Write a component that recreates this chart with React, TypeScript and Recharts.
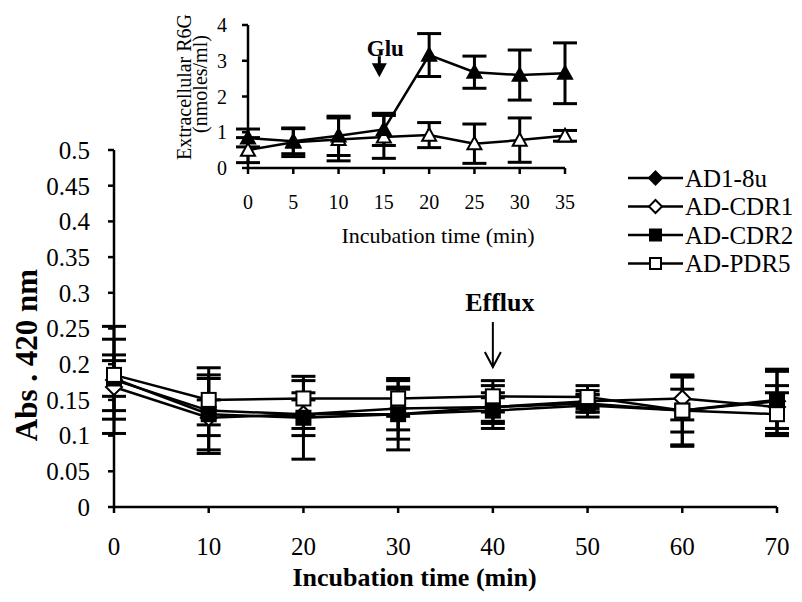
import React from 'react';
import {
  LineChart,
  Line,
  XAxis,
  YAxis,
  ErrorBar,
  Label,
  Legend,
  ReferenceDot,
} from 'recharts';

const SERIF = "'Liberation Serif', 'Times New Roman', serif";

// main chart: absorbance at 420 nm
const minutes = [0, 10, 20, 30, 40, 50, 60, 70];
const ad18u = [0.178, 0.135, 0.13, 0.13, 0.14, 0.145, 0.135, 0.148];
const ad18uErr = [0.075, 0.06, 0.02, 0.05, 0.03, 0.012, 0.03, 0.045];
const cdr1 = [0.168, 0.125, 0.13, 0.138, 0.14, 0.148, 0.152, 0.14];
const cdr1Err = [0.045, 0.025, 0.03, 0.03, 0.02, 0.015, 0.03, 0.03];
const cdr2 = [0.18, 0.13, 0.125, 0.13, 0.135, 0.142, 0.135, 0.15];
const cdr2Err = [0.025, 0.05, 0.058, 0.035, 0.018, 0.016, 0.048, 0.04];
const pdr5 = [0.185, 0.15, 0.152, 0.152, 0.155, 0.154, 0.135, 0.13];
const pdr5Err = [0.05, 0.035, 0.025, 0.025, 0.022, 0.016, 0.05, 0.03];
const yTicks = [0, 0.05, 0.1, 0.15, 0.2, 0.25, 0.3, 0.35, 0.4, 0.45, 0.5];
const xTicks = [0, 10, 20, 30, 40, 50, 60, 70];

// inset: extracellular R6G
const insetMinutes = [0, 5, 10, 15, 20, 25, 30, 35];
const glu = [0.84, 0.75, 0.9, 1.08, 3.16, 2.68, 2.6, 2.65];
const gluErr = [0.25, 0.35, 0.55, 0.45, 0.6, 0.45, 0.7, 0.85];
const noGlu = [0.5, 0.72, 0.8, 0.87, 0.92, 0.68, 0.78, 0.9];
const noGluErr = [0.35, 0.4, 0.6, 0.6, 0.35, 0.55, 0.62, 0.15];
const insetYTicks = [0, 1, 2, 3, 4];
const insetXTicks = [0, 5, 10, 15, 20, 25, 30, 35];

const mainData = minutes.map((t, i) => ({
  t,
  ad18u: ad18u[i],
  ad18uErr: ad18uErr[i],
  cdr1: cdr1[i],
  cdr1Err: cdr1Err[i],
  cdr2: cdr2[i],
  cdr2Err: cdr2Err[i],
  pdr5: pdr5[i],
  pdr5Err: pdr5Err[i],
}));

const insetData = insetMinutes.map((t, i) => ({
  t,
  glu: glu[i],
  gluErr: gluErr[i],
  noGlu: noGlu[i],
  noGluErr: noGluErr[i],
}));

type Shape = 'diamond' | 'square' | 'triangle';

function marker(shape: Shape, cx: number, cy: number, r: number, filled: boolean, key?: string) {
  const fill = filled ? '#000' : '#fff';
  if (shape === 'diamond') {
    return (
      <path
        key={key}
        d={`M${cx},${cy - r}L${cx + r},${cy}L${cx},${cy + r}L${cx - r},${cy}Z`}
        fill={fill}
        stroke="#000"
        strokeWidth={2}
      />
    );
  }
  if (shape === 'square') {
    return (
      <rect key={key} x={cx - r} y={cy - r} width={2 * r} height={2 * r} fill={fill} stroke="#000" strokeWidth={2} />
    );
  }
  return (
    <path
      key={key}
      d={`M${cx},${cy - r}L${cx + r},${cy + r * 0.8}L${cx - r},${cy + r * 0.8}Z`}
      fill={fill}
      stroke="#000"
      strokeWidth={2}
    />
  );
}

const series = [
  { key: 'ad18u', err: 'ad18uErr', name: 'AD1-8u', shape: 'diamond' as Shape, filled: true, r: 8 },
  { key: 'cdr1', err: 'cdr1Err', name: 'AD-CDR1', shape: 'diamond' as Shape, filled: false, r: 8 },
  { key: 'cdr2', err: 'cdr2Err', name: 'AD-CDR2', shape: 'square' as Shape, filled: true, r: 7 },
  { key: 'pdr5', err: 'pdr5Err', name: 'AD-PDR5', shape: 'square' as Shape, filled: false, r: 7 },
];

function renderLegend() {
  return (
    <svg width={180} height={116}>
      {series.map((s, i) => {
        const y = 15 + i * 28.5;
        return (
          <g key={s.key}>
            <line x1={2} y1={y} x2={57} y2={y} stroke="#000" strokeWidth={2.5} />
            {marker(s.shape, 29.5, y, s.r - 1.5, s.filled)}
            <text x={59} y={y + 8.5} fontSize={25} fontFamily={SERIF} fill="#000">
              {s.name}
            </text>
          </g>
        );
      })}
    </svg>
  );
}

const axisStyle = { stroke: '#000', strokeWidth: 2.5 };

export default function App() {
  return (
    <div style={{ position: 'absolute', left: 0, top: 0, width: 802, height: 602, background: '#fff' }}>
      <div style={{ position: 'absolute', left: 0, top: 0 }}>
        <LineChart width={802} height={602} data={mainData} margin={{ top: 150, right: 25, bottom: 0, left: 0 }}>
          <XAxis
            dataKey="t"
            type="number"
            domain={[0, 70]}
            ticks={xTicks}
            height={95}
            axisLine={axisStyle}
            tickLine={axisStyle}
            tickSize={6}
            tickMargin={24}
            tick={{ fill: '#000', fontSize: 25, fontFamily: SERIF }}
          >
            <Label
              content={(p: any) => (
                <text
                  x={p.viewBox.x + p.viewBox.width / 2 - 31}
                  y={p.viewBox.y + 79}
                  textAnchor="middle"
                  fontSize={26}
                  fontWeight="bold"
                  fontFamily={SERIF}
                  fill="#000"
                >
                  Incubation time (min)
                </text>
              )}
            />
          </XAxis>
          <YAxis
            type="number"
            domain={[0, 0.5]}
            ticks={yTicks}
            width={114}
            axisLine={axisStyle}
            tickLine={axisStyle}
            tickSize={6}
            tickMargin={18}
            tickFormatter={(v: number) => String(v)}
            tick={{ fill: '#000', fontSize: 25, fontFamily: SERIF }}
          >
            <Label
              content={(p: any) => {
                const x = 37;
                const y = p.viewBox.y + 205;
                return (
                  <text
                    x={x}
                    y={y}
                    transform={`rotate(-90, ${x}, ${y})`}
                    textAnchor="middle"
                    fontSize={31}
                    fontWeight="bold"
                    fontFamily={SERIF}
                    fill="#000"
                  >
                    Abs . 420 nm
                  </text>
                );
              }}
            />
          </YAxis>
          <Legend
            layout="horizontal"
            verticalAlign="middle"
            align="center"
            wrapperStyle={{ left: 626, top: 163, width: 180, height: 116 }}
            content={renderLegend}
          />
          {series.map((s) => (
            <Line
              key={s.key}
              dataKey={s.key}
              name={s.name}
              stroke="#000"
              strokeWidth={2.5}
              isAnimationActive={false}
              activeDot={false}
              dot={(p: any) => marker(s.shape, p.cx, p.cy, s.r, s.filled, `${s.key}-${p.index}`)}
            >
              <ErrorBar dataKey={s.err} width={12} strokeWidth={3} stroke="#000" direction="y" />
            </Line>
          ))}
          <ReferenceDot
            x={40}
            y={0.196}
            shape={(p: any) => (
              <g>
                <line x1={p.cx} y1={p.cy - 45} x2={p.cx} y2={p.cy} stroke="#000" strokeWidth={2} />
                <polyline
                  points={`${p.cx - 8},${p.cy - 15} ${p.cx},${p.cy} ${p.cx + 8},${p.cy - 15}`}
                  fill="none"
                  stroke="#000"
                  strokeWidth={2}
                />
                <text
                  x={p.cx + 7}
                  y={p.cy - 56}
                  textAnchor="middle"
                  fontSize={26}
                  fontWeight="bold"
                  fontFamily={SERIF}
                  fill="#000"
                >
                  Efflux
                </text>
              </g>
            )}
          />
        </LineChart>
      </div>
      <div style={{ position: 'absolute', left: 0, top: 0 }}>
        <LineChart width={600} height={250} data={insetData} margin={{ top: 25, right: 35, bottom: 0, left: 0 }}>
          <XAxis
            dataKey="t"
            type="number"
            domain={[0, 35]}
            ticks={insetXTicks}
            height={82}
            axisLine={axisStyle}
            tickLine={axisStyle}
            tickSize={6}
            tickMargin={21}
            tick={{ fill: '#000', fontSize: 20, fontFamily: SERIF }}
          >
            <Label
              content={(p: any) => (
                <text
                  x={p.viewBox.x + 190}
                  y={p.viewBox.y + 75}
                  textAnchor="middle"
                  fontSize={22}
                  fontFamily={SERIF}
                  fill="#000"
                >
                  Incubation time (min)
                </text>
              )}
            />
          </XAxis>
          <YAxis
            type="number"
            domain={[0, 4]}
            ticks={insetYTicks}
            width={248}
            axisLine={axisStyle}
            tickLine={axisStyle}
            tickSize={6}
            tickMargin={15}
            tick={{ fill: '#000', fontSize: 20, fontFamily: SERIF }}
          >
            <Label
              content={() => (
                <g fontFamily={SERIF} fontSize={20} fill="#000">
                  <text x={191} y={87} transform="rotate(-90, 191, 87)" textAnchor="middle">
                    Extracellular R6G
                  </text>
                  <text x={207} y={84} transform="rotate(-90, 207, 84)" textAnchor="middle">
                    (nmoles/ml)
                  </text>
                </g>
              )}
            />
          </YAxis>
          <Line
            dataKey="noGlu"
            stroke="#000"
            strokeWidth={2.5}
            isAnimationActive={false}
            activeDot={false}
            dot={(p: any) => marker('triangle', p.cx, p.cy, 7, false, `ng-${p.index}`)}
          >
            <ErrorBar dataKey="noGluErr" width={12} strokeWidth={3} stroke="#000" direction="y" />
          </Line>
          <Line
            dataKey="glu"
            stroke="#000"
            strokeWidth={2.5}
            isAnimationActive={false}
            activeDot={false}
            dot={(p: any) => marker('triangle', p.cx, p.cy, 7, true, `g-${p.index}`)}
          >
            <ErrorBar dataKey="gluErr" width={12} strokeWidth={3} stroke="#000" direction="y" />
          </Line>
          <ReferenceDot
            x={14.5}
            y={2.54}
            shape={(p: any) => (
              <g>
                <line x1={p.cx} y1={p.cy - 21} x2={p.cx} y2={p.cy - 12} stroke="#000" strokeWidth={3} />
                <path d={`M${p.cx - 7.5},${p.cy - 14}L${p.cx + 7.5},${p.cy - 14}L${p.cx},${p.cy}Z`} fill="#000" />
                <text
                  x={p.cx + 6}
                  y={p.cy - 21}
                  textAnchor="middle"
                  fontSize={23}
                  fontWeight="bold"
                  fontFamily={SERIF}
                  fill="#000"
                >
                  Glu
                </text>
              </g>
            )}
          />
        </LineChart>
      </div>
    </div>
  );
}
